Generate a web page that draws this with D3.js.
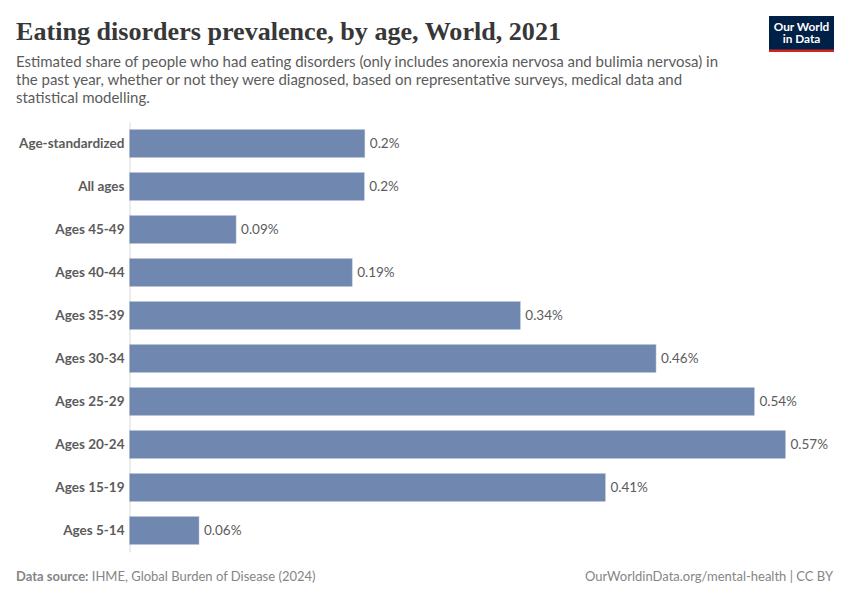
<!DOCTYPE html>
<html>
<head>
<meta charset="utf-8">
<script src="https://cdn.jsdelivr.net/npm/d3@7"></script>
<style>
    html, body { margin: 0; padding: 0; background: #fff; }
    svg { display: block; }
    text { font-family: Lato, "Noto Sans", sans-serif; }
</style>
</head>
<body>
<script>
const categories = ["Age-standardized", "All ages", "Ages 45-49", "Ages 40-44", "Ages 35-39",
    "Ages 30-34", "Ages 25-29", "Ages 20-24", "Ages 15-19", "Ages 5-14"];
const values = [0.2045, 0.204, 0.0926, 0.1935, 0.3396, 0.4575, 0.543, 0.57, 0.4135, 0.0604];

const titleText = "Eating disorders prevalence, by age, World, 2021";
const subtitleLines = [
    "Estimated share of people who had eating disorders (only includes anorexia nervosa and bulimia nervosa) in",
    "the past year, whether or not they were diagnosed, based on representative surveys, medical data and",
    "statistical modelling."
];

const width = 850, height = 600;
const svg = d3.select("body").append("svg")
    .attr("width", width)
    .attr("height", height);

svg.append("text")
    .attr("x", 16).attr("y", 40)
    .attr("font-size", 25.5)
    .attr("font-weight", 700)
    .attr("fill", "#373737")
    .style("font-family", "'Liberation Serif', serif")
    .attr("textLength", 545)
    .attr("lengthAdjust", "spacingAndGlyphs")
    .text(titleText);

svg.selectAll("text.subtitle")
    .data(subtitleLines)
    .join("text")
    .classed("subtitle", true)
    .attr("x", 16)
    .attr("y", (d, i) => 66.5 + i * 18)
    .attr("font-size", 15)
    .attr("fill", "#5b5b5b")
    .text(d => d);

const x = d3.scaleLinear().domain([0, 0.57]).range([129.5, 785.5]);
const y = d3.scaleBand().domain(categories).range([122, 552])
    .paddingInner(0.35)
    .paddingOuter(0.175);

const axis = svg.append("g")
    .attr("transform", `translate(${x(0)},0)`)
    .call(d3.axisLeft(y).tickSize(0).tickPadding(5));
axis.select(".domain").attr("stroke", "#d9d9d9").attr("stroke-width", 1);
axis.selectAll("text")
    .attr("font-size", 13.5)
    .attr("font-weight", 700)
    .attr("fill", "#5b5b5b")
    .style("font-family", "Lato");

svg.selectAll("rect.bar")
    .data(values)
    .join("rect")
    .classed("bar", true)
    .attr("x", x(0))
    .attr("y", (d, i) => y(categories[i]))
    .attr("width", d => x(d) - x(0))
    .attr("height", y.bandwidth())
    .attr("fill", "#4c6a9c")
    .attr("fill-opacity", 0.8)
    .attr("stroke", "#b7c3d7")
    .attr("stroke-width", 0.5);

const fmt = d3.format(".2~f");
svg.selectAll("text.value")
    .data(values)
    .join("text")
    .classed("value", true)
    .attr("x", d => x(d) + 5)
    .attr("y", (d, i) => y(categories[i]) + y.bandwidth() / 2)
    .attr("dy", "0.32em")
    .attr("font-size", 13.5)
    .attr("fill", "#5b5b5b")
    .text(d => fmt(d) + "%");

// footer
const source = svg.append("text")
    .attr("x", 16).attr("y", 581)
    .attr("font-size", 13)
    .attr("fill", "#858585");
source.append("tspan").attr("font-weight", 700).text("Data source:");
source.append("tspan").text(" IHME, Global Burden of Disease (2024)");

svg.append("text")
    .attr("x", 833).attr("y", 581)
    .attr("text-anchor", "end")
    .attr("font-size", 13)
    .attr("fill", "#858585")
    .text("OurWorldinData.org/mental-health | CC BY");

// logo
const logo = svg.append("g").attr("transform", "translate(769,16)");
logo.append("rect").attr("width", 65).attr("height", 36).attr("fill", "#002147");
logo.append("rect").attr("y", 33.5).attr("width", 65).attr("height", 2.5).attr("fill", "#ce261e");
logo.append("text")
    .attr("text-anchor", "middle")
    .attr("font-size", 11.8)
    .attr("font-weight", 700)
    .attr("fill", "#fff")
    .selectAll("tspan")
    .data(["Our World", "in Data"])
    .join("tspan")
    .attr("x", 32.5)
    .attr("y", (d, i) => 15 + i * 12.3)
    .text(d => d);
</script>
</body>
</html>
